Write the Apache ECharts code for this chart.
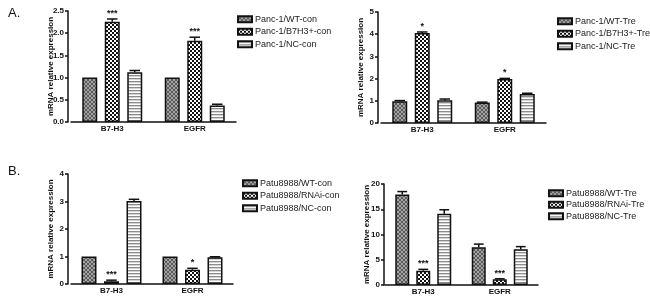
<!DOCTYPE html>
<html>
<head>
<meta charset="utf-8">
<script src="https://cdn.jsdelivr.net/npm/echarts@6/dist/echarts.min.js"></script>
<style>
html,body{margin:0;padding:0;background:#fff;}
#chart{width:650px;height:299px;}
</style>
</head>
<body>
<div id="chart"></div>
<script>
// ---------- DATA ----------
const categories = ['B7-H3', 'EGFR'];

// Panel A (left): Panc-1 con
const a1Names = ['Panc-1/WT-con', 'Panc-1/B7H3+-con', 'Panc-1/NC-con'];
const a1WT = [1.00, 1.00];
const a1B7 = [2.26, 1.83];
const a1NC = [1.12, 0.37];
const a1WTErr = [0, 0];
const a1B7Err = [0.06, 0.08];
const a1NCErr = [0.04, 0.03];
const a1Stars = ['***', '***'];
const a1Ticks = { max: 2.5, interval: 0.5 };

// Panel A (right): Panc-1 Tre
const a2Names = ['Panc-1/WT-Tre', 'Panc-1/B7H3+-Tre', 'Panc-1/NC-Tre'];
const a2WT = [0.98, 0.92];
const a2B7 = [4.05, 1.98];
const a2NC = [1.03, 1.31];
const a2WTErr = [0.03, 0.02];
const a2B7Err = [0.05, 0.03];
const a2NCErr = [0.05, 0.03];
const a2Stars = ['*', '*'];
const a2Ticks = { max: 5, interval: 1 };

// Panel B (left): Patu8988 con
const b1Names = ['Patu8988/WT-con', 'Patu8988/RNAi-con', 'Patu8988/NC-con'];
const b1WT = [1.00, 1.00];
const b1RNAi = [0.10, 0.52];
const b1NC = [3.02, 0.97];
const b1WTErr = [0, 0];
const b1RNAiErr = [0.04, 0.05];
const b1NCErr = [0.06, 0.02];
const b1Stars = ['***', '*'];
const b1Ticks = { max: 4, interval: 1 };

// Panel B (right): Patu8988 Tre
const b2Names = ['Patu8988/WT-Tre', 'Patu8988/RNAi-Tre', 'Patu8988/NC-Tre'];
const b2WT = [17.9, 7.5];
const b2RNAi = [2.8, 1.13];
const b2NC = [14.1, 7.1];
const b2WTErr = [0.6, 0.6];
const b2RNAiErr = [0.3, 0.1];
const b2NCErr = [0.8, 0.5];
const b2Stars = ['***', '***'];
const b2Ticks = { max: 20, interval: 5 };

const yName = 'mRNA relative expression';

// ---------- STYLES ----------
const FONT = '"Liberation Sans", Arial, Helvetica, sans-serif';
function makePattern(kind) {
  const c = document.createElement('canvas');
  const ctx = c.getContext('2d');
  if (kind === 'hatch') {
    c.width = 4; c.height = 4;
    ctx.fillStyle = '#a4a4a4'; ctx.fillRect(0, 0, 4, 4);
    ctx.fillStyle = '#5a5a5a';
    for (let i = 0; i < 4; i++) { ctx.fillRect(i, i, 1, 1); ctx.fillRect(3 - i, i, 1, 1); }
  } else if (kind === 'check') {
    c.width = 4; c.height = 4;
    ctx.fillStyle = '#ffffff'; ctx.fillRect(0, 0, 4, 4);
    ctx.fillStyle = '#111111';
    ctx.fillRect(0, 0, 2, 2); ctx.fillRect(2, 2, 2, 2);
  } else {
    c.width = 2; c.height = 3;
    ctx.fillStyle = '#ffffff'; ctx.fillRect(0, 0, 2, 3);
    ctx.fillStyle = '#8c8c8c'; ctx.fillRect(0, 0, 2, 1);
    ctx.fillStyle = '#d4d4d4'; ctx.fillRect(0, 1, 2, 1);
  }
  return { image: c, repeat: 'repeat' };
}
const patterns = [makePattern('hatch'), makePattern('check'), makePattern('stripe')];

const panels = [
  { names: a1Names, values: [a1WT, a1B7, a1NC], errs: [a1WTErr, a1B7Err, a1NCErr], stars: a1Stars, ticks: a1Ticks, dec: 1,
    grid: { left: 71, top: 11, width: 165, height: 111 }, yOffset: 3, bw: 15, legend: { left: 232, top: 9, gap: 2 } },
  { names: a2Names, values: [a2WT, a2B7, a2NC], errs: [a2WTErr, a2B7Err, a2NCErr], stars: a2Stars, ticks: a2Ticks, dec: 0,
    grid: { left: 381, top: 12, width: 165, height: 111 }, yOffset: 3, bw: 15, legend: { left: 552, top: 11, gap: 2 } },
  { names: b1Names, values: [b1WT, b1RNAi, b1NC], errs: [b1WTErr, b1RNAiErr, b1NCErr], stars: b1Stars, ticks: b1Ticks, dec: 0,
    grid: { left: 71, top: 174, width: 162, height: 110 }, yOffset: 3, bw: 15, legend: { left: 237, top: 173, gap: 2 } },
  { names: b2Names, values: [b2WT, b2RNAi, b2NC], errs: [b2WTErr, b2RNAiErr, b2NCErr], stars: b2Stars, ticks: b2Ticks, dec: 0,
    grid: { left: 385, top: 184, width: 153, height: 101 }, yOffset: 1, bw: 14, legend: { left: 543, top: 183, gap: 1 } }
];

const option = {
  animation: false,
  backgroundColor: '#ffffff',
  textStyle: { fontFamily: FONT },
  title: [
    { text: 'A.', left: 3, top: 2, textStyle: { fontSize: 13, fontWeight: 'normal', color: '#111', fontFamily: FONT } },
    { text: 'B.', left: 3, top: 160, textStyle: { fontSize: 13, fontWeight: 'normal', color: '#111', fontFamily: FONT } }
  ],
  grid: [], xAxis: [], yAxis: [], legend: [], series: []
};

panels.forEach((p, pi) => {
  option.grid.push(p.grid);
  option.xAxis.push({
    type: 'category', gridIndex: pi, data: categories,
    axisLine: { lineStyle: { color: '#111', width: 1.5 } },
    axisTick: { alignWithLabel: true, length: 3, lineStyle: { color: '#111', width: 1.5 } },
    axisLabel: { fontSize: 8, fontWeight: 'bold', color: '#111', margin: 3, fontFamily: FONT },
    splitLine: { show: false }
  });
  option.yAxis.push({
    type: 'value', gridIndex: pi, min: 0, max: p.ticks.max, interval: p.ticks.interval,
    offset: p.yOffset,
    name: yName, nameLocation: 'middle', nameGap: 13, nameRotate: 90, nameMoveOverlap: false,
    nameTextStyle: { fontSize: 8, fontWeight: 'bold', color: '#111', fontFamily: FONT },
    axisLine: { show: true, lineStyle: { color: '#111', width: 1.5 } },
    axisTick: { show: true, length: 3, lineStyle: { color: '#111', width: 1.5 } },
    axisLabel: { fontSize: 8, fontWeight: 'bold', color: '#111', margin: 4, fontFamily: FONT,
      formatter: v => Number(v).toFixed(p.dec) },
    splitLine: { show: false }
  });
  option.legend.push({
    data: p.names, orient: 'vertical', left: p.legend.left, top: p.legend.top,
    icon: 'rect', itemWidth: 14, itemHeight: 6, itemGap: p.legend.gap, selectedMode: false,
    textStyle: { fontSize: 9, color: '#222', fontFamily: FONT, lineHeight: 10.5, padding: [0, 0, 0, -2] }
  });
  p.names.forEach((nm, si) => {
    option.series.push({
      type: 'bar', name: nm, xAxisIndex: pi, yAxisIndex: pi,
      data: p.values[si], barWidth: p.bw, barGap: '50%',
      itemStyle: { color: patterns[si], borderColor: '#111', borderWidth: 1.5 },
      emphasis: { disabled: true }, silent: true
    });
  });
  // error bars + significance marks
  const errData = [];
  const starText = [];
  for (let si = 0; si < 3; si++) {
    for (let ci = 0; ci < categories.length; ci++) {
      errData.push([ci, p.values[si][ci], p.errs[si][ci], si]);
      starText.push(si === 1 ? p.stars[ci] : '');
    }
  }
  const bw = p.bw;
  option.series.push({
    type: 'custom', xAxisIndex: pi, yAxisIndex: pi, z: 10, silent: true,
    data: errData,
    encode: { x: 0, y: 1 },
    renderItem: function (params, api) {
      const ci = api.value(0), v = api.value(1), e = api.value(2), si = api.value(3);
      const base = api.coord([ci, v]);
      const top = api.coord([ci, v + e]);
      const x = base[0] + (si - 1) * bw * 1.5;
      const children = [];
      if (e > 0) {
        children.push({ type: 'line', shape: { x1: x, y1: base[1], x2: x, y2: top[1] },
          style: { stroke: '#111', lineWidth: 1.5 } });
        children.push({ type: 'line', shape: { x1: x - bw * 0.35, y1: top[1], x2: x + bw * 0.35, y2: top[1] },
          style: { stroke: '#111', lineWidth: 1.5 } });
      }
      const s = starText[params.dataIndex];
      if (s) {
        children.push({ type: 'text', x: x, y: top[1] - 1,
          style: { text: s, fill: '#111', font: 'bold 9px ' + FONT, align: 'center', verticalAlign: 'bottom' } });
      }
      return { type: 'group', children: children };
    }
  });
});

const chart = echarts.init(document.getElementById('chart'), null, { renderer: 'canvas' });
chart.setOption(option);
</script>
</body>
</html>
